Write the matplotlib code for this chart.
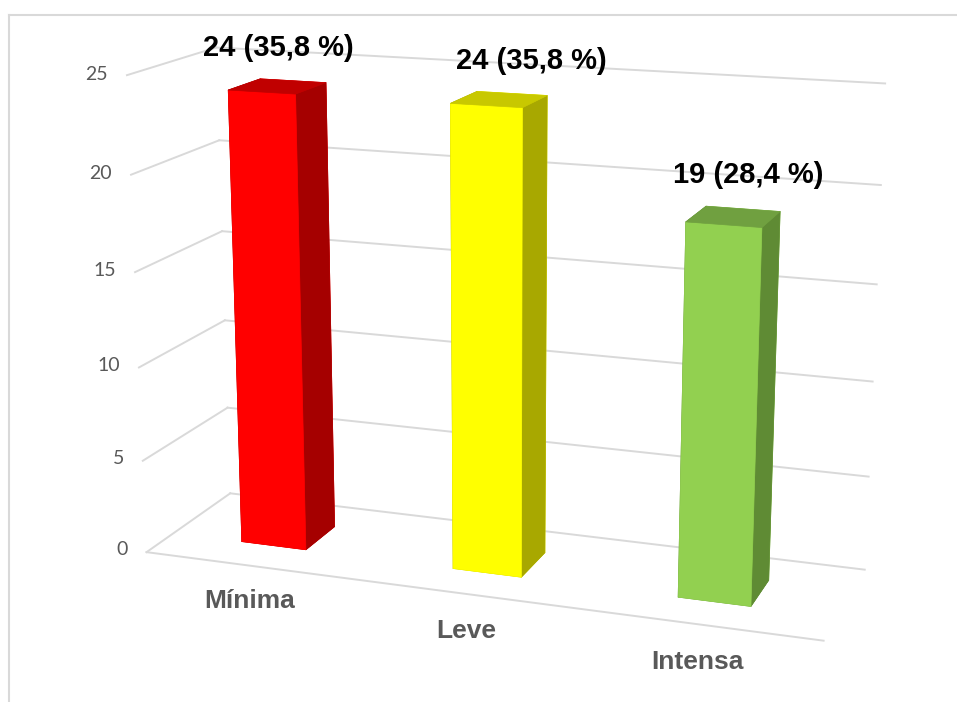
import matplotlib
matplotlib.use("Agg")
import matplotlib.pyplot as plt
from matplotlib.lines import Line2D
import numpy as np

# Data
categories = ["Mínima", "Leve", "Intensa"]
counts = [24, 24, 19]
percents = [35.8, 35.8, 28.4]
yticks = [0, 5, 10, 15, 20, 25]

# Face colours per bar: front, right side, top
front_colors = ["#FF0000", "#FFFF00", "#92D050"]
side_colors = ["#A50000", "#A8A800", "#5F8B34"]
top_colors = ["#C00000", "#C8C800", "#70A040"]

W, H = 957, 702
fig = plt.figure(figsize=(W / 100, H / 100), dpi=100)
fig.patch.set_facecolor("white")

ax = fig.add_axes([0.1479, 0.0213, H / W, 1.0], projection="3d",
                  computed_zorder=False)

ncat = len(categories)
x_lo, x_hi = 0.010, 3.014
depth = 0.82
ax.set_xlim(x_lo, x_hi)
ax.set_ylim(0, depth)
ax.set_zlim(0, yticks[-1])
ax.set_box_aspect((2.945, depth, 2.06), zoom=1.2328)
ax.set_proj_type("persp", focal_length=0.627)
ax.view_init(elev=15, azim=-70.5)
ax.set_axis_off()

# Back wall, side wall and floor gridlines
grid_kw = dict(color="#D9D9D9", lw=1.4, zorder=1, clip_on=False)
for t in yticks:
    ax.plot([x_lo, x_hi], [depth, depth], [t, t], **grid_kw)
    ax.plot([x_lo, x_lo], [0, depth], [t, t], **grid_kw)
    ax.text(x_lo - 0.09, 0, t, str(t), ha="right", va="center", fontsize=14,
            color="#595959", family="Lato", zorder=5)
ax.plot([x_lo, x_hi], [0, 0], [0, 0], **grid_kw)

# 3D columns
bw, bd = 0.31, 0.31
xs = np.arange(ncat) + 0.5 - bw / 2
ys = np.full(ncat, depth / 2 - bd / 2)
zs = np.zeros(ncat)
face_colors = []
for f, s, tp in zip(front_colors, side_colors, top_colors):
    # order used by bar3d: bottom, top, front, back, left, right
    face_colors += [tp, tp, f, f, s, s]
bars = ax.bar3d(xs, ys, zs, bw, bd, counts, color=face_colors, shade=False,
                edgecolor=face_colors, linewidth=0.5, zorder=3)
bars.set_clip_on(False)

# Value labels above the columns
label_dx = [0.01, 0.14, 0.055]
label_dz = [1.95, 1.95, 2.05]
for i, (c, p) in enumerate(zip(counts, percents)):
    txt = f"{c} ({p:.1f} %)".replace(".", ",")
    ax.text(i + 0.5 + label_dx[i], depth / 2, c + label_dz[i], txt,
            ha="center", va="center", fontsize=21, fontweight="bold",
            family="Liberation Sans", color="black", zorder=6)

# Category labels in front of the floor
for i, name in enumerate(categories):
    ax.text(i + 0.5, 0, -1.95, name, ha="center", va="center", fontsize=19,
            fontweight="bold", family="Liberation Sans", color="#595959",
            zorder=6)

# Chart frame
x0 = 8.5 / W
y0 = 1 - 14.5 / H
fig.add_artist(Line2D([x0, 1], [y0, y0], color="#D9D9D9", lw=1.5))
fig.add_artist(Line2D([x0, x0], [0, y0], color="#D9D9D9", lw=1.5))

fig.savefig("out.png", dpi=100)
